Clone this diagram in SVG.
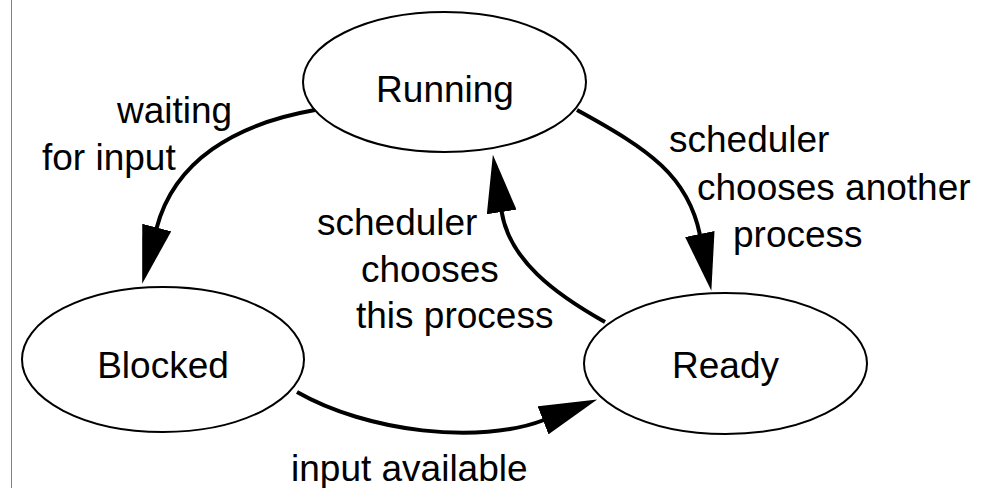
<svg xmlns="http://www.w3.org/2000/svg" width="992" height="488" viewBox="0 0 992 488">
<style>
.node{fill:#fff;stroke:#000;stroke-width:2}
.lbl{font-family:"Liberation Sans",Arial,sans-serif;font-size:37px;fill:#000}
.mid{text-anchor:middle}
.edge{fill:none;stroke:#000;stroke-width:4}
</style>
<defs>
<marker id="ah" viewBox="0 0 58 30" markerWidth="58" markerHeight="30" markerUnits="userSpaceOnUse" refX="1" refY="15" orient="auto">
<path d="M0,0 L58,15 L0,30 z" fill="#000"/>
</marker>
</defs>
<rect width="992" height="488" fill="#fff"/>
<line x1="11.5" y1="0" x2="11.5" y2="488" stroke="#808080" stroke-width="1"/>
<g id="edges">
<path class="edge" d="M315,110 C235,124 174,161 156.5,228.5" marker-end="url(#ah)"/>
<path class="edge" d="M577,110 C650,150 688,176 700,235" marker-end="url(#ah)"/>
<path class="edge" d="M605,322 C555,294 509,260 501.5,211" marker-end="url(#ah)"/>
<path class="edge" d="M297,392 C367,432 479,445 544,420" marker-end="url(#ah)"/>
</g>
<g id="running">
<ellipse class="node" cx="444.5" cy="82" rx="141.5" ry="70"/>
<text class="lbl mid" x="445" y="102">Running</text>
</g>
<g id="blocked">
<ellipse class="node" cx="163" cy="359.5" rx="141" ry="72.5"/>
<text class="lbl mid" x="163" y="378">Blocked</text>
</g>
<g id="ready">
<ellipse class="node" cx="725.5" cy="363.5" rx="141.5" ry="70.5"/>
<text class="lbl mid" x="725.5" y="378">Ready</text>
</g>
<g id="labels">
<text class="lbl" x="117" y="123">waiting</text>
<text class="lbl" x="42" y="170">for input</text>
<text class="lbl" x="669" y="152">scheduler</text>
<text class="lbl" x="697" y="200">chooses another</text>
<text class="lbl" x="733" y="247">process</text>
<text class="lbl" x="317" y="235">scheduler</text>
<text class="lbl" x="361" y="282">chooses</text>
<text class="lbl" x="356" y="328">this process</text>
<text class="lbl" x="291" y="481">input available</text>
</g>
</svg>
